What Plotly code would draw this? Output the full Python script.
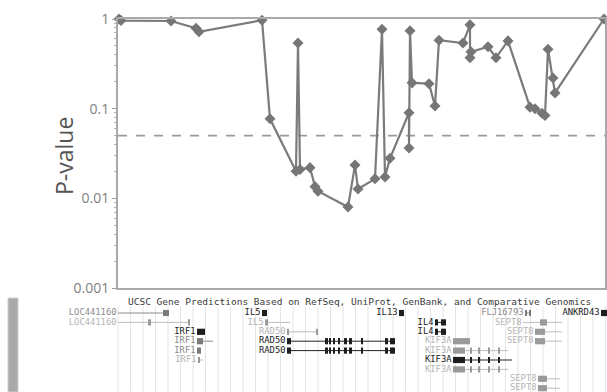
import plotly.graph_objects as go
import numpy as np

# ---- association results: marker position (kb from region start) and p-value
position_kb = [1, 3, 53, 78, 81, 144, 152, 178, 180, 182, 192, 197, 200, 230,
               237, 240, 257, 264, 267, 272, 291, 291, 292, 294, 311, 317, 321,
               345, 352, 352, 353, 370, 378, 390, 412, 417, 424, 427, 430, 435,
               437, 486]
p_value = [1.0, 0.96, 0.95, 0.79, 0.72, 0.97, 0.077, 0.020, 0.54, 0.021, 0.022,
           0.0135, 0.012, 0.0080, 0.0235, 0.0127, 0.0165, 0.77, 0.0173, 0.028,
           0.090, 0.0365, 0.74, 0.194, 0.19, 0.107, 0.58, 0.54, 0.86, 0.37, 0.43,
           0.49, 0.37, 0.57, 0.104, 0.100, 0.089, 0.084, 0.46, 0.22, 0.15, 1.0]
threshold = 0.05
y_tick_vals = [0.001, 0.01, 0.1, 1]
y_tick_text = ["0.001", "0.01", "0.1", "1"]
region_kb = [0, 487]

# ---- gene track (UCSC gene predictions), positions in kb
track_title = "UCSC Gene Predictions Based on RefSeq, UniProt, GenBank, and Comparative Genomics"
gene_name = ["LOC441160", "LOC441160", "IRF1", "IRF1", "IRF1", "IRF1", "IL5", "IL5",
             "RAD50", "RAD50", "RAD50", "IL13", "IL4", "IL4", "KIF3A", "KIF3A",
             "KIF3A", "KIF3A", "FLJ16793", "ANKRD43", "SEPT8", "SEPT8", "SEPT8",
             "SEPT8", "SEPT8"]
gene_row = [1, 2, 3, 4, 5, 6, 1, 2, 3, 4, 5, 1, 2, 3, 4, 5, 6, 7, 1, 1, 2, 3, 4, 8, 9]
gene_start = [0, 0, 79, 79, 79, 80, 144, 147, 169, 169, 169, 281, 317, 317, 335,
              335, 335, 335, 407, 483, 405, 417, 417, 420, 420]
gene_end = [50, 72, 87, 95, 83, 85, 149, 172, 200, 277, 277, 286, 328, 328, 352,
            390, 394, 390, 413, 489, 444, 444, 444, 442, 442]
gene_shade = [1, 2, 0, 1, 1, 2, 0, 2, 2, 0, 0, 0, 0, 0, 2, 2, 0, 2, 1, 0, 2, 2, 2, 2, 2]
rad50_exons = [(169, 173), (207, 210), (211, 213), (215, 217), (220, 222), (226, 229),
               (231, 234), (243, 245), (267, 270), (272, 277)]
kif3a_exons = [(335, 347), (352, 354), (360, 362), (370, 372), (380, 382)]
gene_exons = [[(45, 51)], [(30, 33), (70, 72)], [(79, 87)], [(79, 85)], [(79, 83)],
              [(80, 82)], [(144, 149)], [(147, 150)], [(169, 171), (198, 200)],
              rad50_exons, rad50_exons, [(281, 286)], [(317, 320), (323, 328)],
              [(317, 320), (323, 328)], [(335, 352)], kif3a_exons, kif3a_exons,
              kif3a_exons, [(407, 409), (411, 413)], [(483, 489)], [(422, 429)],
              [(417, 427)], [(417, 427)], [(420, 429)], [(420, 429)]]

W, H = 607, 392
plot_left, plot_right, plot_top, plot_bottom = 118, 605, 19, 288
track_top = 296

label_colors = ["#222222", "#8c8c8c", "#b4b4b4"]
line_colors = ["#222222", "#8c8c8c", "#bdbdbd"]
exon_colors = ["#1e1e1e", "#7a7a7a", "#9a9a9a"]

fig = go.Figure()

# threshold line
fig.add_trace(go.Scatter(
    x=region_kb, y=[threshold, threshold], mode="lines",
    line=dict(color="#9a9a9a", width=1.6, dash="dash"),
    hoverinfo="skip", showlegend=False))

# p-value profile
fig.add_trace(go.Scatter(
    x=position_kb, y=p_value, mode="lines+markers",
    line=dict(color="#7b7b7b", width=2.2),
    marker=dict(symbol="diamond", size=8.5, color="#767676"),
    showlegend=False, cliponaxis=False))

# gene track: introns as thin lines, one trace per shade
for shade in range(3):
    xs, ys = [], []
    for s, e, r, sh in zip(gene_start, gene_end, gene_row, gene_shade):
        if sh == shade:
            xs += [s, e, None]
            ys += [r, r, None]
    fig.add_trace(go.Scatter(
        x=xs, y=ys, mode="lines", xaxis="x2", yaxis="y2",
        line=dict(color=line_colors[shade], width=1),
        hoverinfo="skip", showlegend=False))

# gene labels, right-aligned just before each gene
for shade in range(3):
    idx = [i for i, sh in enumerate(gene_shade) if sh == shade]
    fig.add_trace(go.Scatter(
        x=[gene_start[i] - 1.5 for i in idx], y=[gene_row[i] for i in idx],
        text=[gene_name[i] for i in idx], mode="text", textposition="middle left",
        textfont=dict(family="DejaVu Sans Mono", size=8.8, color=label_colors[shade]),
        xaxis="x2", yaxis="y2", hoverinfo="skip", showlegend=False, cliponaxis=False))

fig.add_trace(go.Scatter(
    x=[10], y=[-0.12], text=[track_title], mode="text", textposition="middle right",
    textfont=dict(family="DejaVu Sans Mono", size=9.5, color="#3a3a3a"),
    xaxis="x2", yaxis="y2", hoverinfo="skip", showlegend=False, cliponaxis=False))

shapes = []
# faint vertical guide lines behind the gene track
for gx in np.arange(0, region_kb[1] + 1, 12.5):
    shapes.append(dict(type="line", xref="x2", yref="y2", x0=gx, x1=gx,
                       y0=0.3, y1=9.4, line=dict(color="#e4e4e4", width=1),
                       layer="below"))
# exon blocks
for exons, r, sh in zip(gene_exons, gene_row, gene_shade):
    for s, e in exons:
        shapes.append(dict(type="rect", xref="x2", yref="y2", x0=s, x1=e,
                           y0=r - 0.33, y1=r + 0.33, fillcolor=exon_colors[sh],
                           line=dict(width=0)))
# side bar of the browser panel
shapes.append(dict(type="rect", xref="paper", yref="paper",
                   x0=8 / W, x1=18 / W, y0=0, y1=(H - 298) / H,
                   fillcolor="#a9a9a9", line=dict(color="#cfcfcf", width=1)))

row_px0, row_step = 313, 9.4
fig.update_layout(
    width=W, height=H, autosize=False,
    margin=dict(l=0, r=0, t=0, b=0),
    paper_bgcolor="white", plot_bgcolor="white",
    shapes=shapes,
    xaxis=dict(domain=[plot_left / W, plot_right / W], range=region_kb,
               showticklabels=False, ticks="", showgrid=False, zeroline=False,
               showline=True, linecolor="#a9a9a9", linewidth=2, mirror=True),
    yaxis=dict(type="log", range=[-3, 0],
               domain=[(H - plot_bottom) / H, (H - plot_top) / H],
               tickvals=y_tick_vals, ticktext=y_tick_text,
               ticks="outside", ticklen=4, tickcolor="#9a9a9a", tickwidth=1,
               minor=dict(ticks="outside", ticklen=2, tickcolor="#b0b0b0", dtick="D1"),
               tickfont=dict(family="Open Sans", size=14, color="#808080"),
               showgrid=False, zeroline=False, automargin=False,
               showline=True, linecolor="#a9a9a9", linewidth=2, mirror=True),
    xaxis2=dict(domain=[0, 1], range=[-plot_left, W - plot_left], anchor="y2",
                visible=False, fixedrange=True),
    yaxis2=dict(domain=[0, (H - track_top) / H],
                range=[1 + (H - row_px0) / row_step, 1 + (track_top - row_px0) / row_step],
                anchor="x2", visible=False, fixedrange=True),
    annotations=[dict(text="P-value", xref="paper", yref="paper",
                      x=46 / W, y=(H - 156) / H, textangle=-90, showarrow=False,
                      font=dict(family="Open Sans", size=23, color="#555555"))],
)

fig.write_html("out.html")
